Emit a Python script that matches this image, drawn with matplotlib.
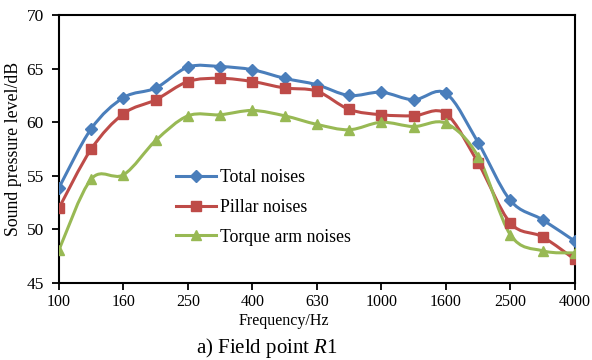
import numpy as np
import matplotlib.pyplot as plt
from matplotlib.path import Path
from matplotlib.patches import PathPatch
from matplotlib.lines import Line2D

plt.rcParams["font.family"] = ["Liberation Serif", "DejaVu Serif"]
plt.rcParams["mathtext.fontset"] = "custom"
plt.rcParams["mathtext.rm"] = "Liberation Serif"
plt.rcParams["mathtext.it"] = "Liberation Serif:italic"

freqs = ["100", "125", "160", "200", "250", "315", "400", "500", "630",
         "800", "1000", "1250", "1600", "2000", "2500", "3150", "4000"]
total = [53.9, 59.4, 62.3, 63.2, 65.15, 65.2, 64.9, 64.1, 63.5,
         62.5, 62.8, 62.1, 62.7, 58.1, 52.7, 50.9, 48.9]
pillar = [52.0, 57.5, 60.8, 62.1, 63.8, 64.1, 63.8, 63.2, 62.9,
          61.2, 60.7, 60.6, 60.8, 56.2, 50.6, 49.3, 47.2]
torque = [48.1, 54.7, 55.1, 58.3, 60.6, 60.7, 61.1, 60.6, 59.8,
          59.3, 60.0, 59.6, 59.9, 56.8, 49.5, 48.0, 47.8]

series = [
    ("Total noises", total, "#4a7ebb", "D", 6),
    ("Pillar noises", pillar, "#be4b48", "s", 7),
    ("Torque arm noises", torque, "#98b954", "^", 7.5),
]


def smooth_path(x, y):
    # Catmull-Rom style bezier, like Excel's smoothed line
    pts = np.column_stack([x, y]).astype(float)
    n = len(pts)
    verts = [pts[0]]
    codes = [Path.MOVETO]
    for i in range(n - 1):
        p0 = pts[i - 1] if i > 0 else pts[i]
        p1 = pts[i]
        p2 = pts[i + 1]
        p3 = pts[i + 2] if i + 2 < n else pts[i + 1]
        c1 = p1 + (p2 - p0) / 6
        c2 = p2 - (p3 - p1) / 6
        verts += [c1, c2, p2]
        codes += [Path.CURVE4] * 3
    return Path(verts, codes)


fig = plt.figure(figsize=(5.92, 3.6), dpi=100)
ax = fig.add_axes([0.0997, 0.214, 0.8713, 0.744])

x = np.arange(len(freqs))
handles = []
for name, vals, col, mk, ms in series:
    ax.add_patch(PathPatch(smooth_path(x, vals), facecolor="none",
                           edgecolor=col, lw=2.2, zorder=2))
    ax.plot(x, vals, ls="none", marker=mk, ms=ms, color=col, zorder=3)
    handles.append(Line2D([], [], color=col, lw=2.2, marker=mk, ms=ms))

ax.set_xlim(0, len(freqs) - 1)
ax.set_ylim(45, 70)
ax.set_xticks(x[::2])
ax.set_xticklabels(freqs[::2])
ax.set_yticks(np.arange(45, 71, 5))
ax.tick_params(axis="both", direction="out", length=5, width=1.3, pad=3)
ax.tick_params(axis="x", labelsize=11.5)
ax.tick_params(axis="y", labelsize=12.5, pad=6)
for s in ax.spines.values():
    s.set_linewidth(1.5)

ax.set_ylabel("Sound pressure level/dB", fontsize=12.8, labelpad=3)
fig.text(0.48, 0.108, "Frequency/Hz", ha="center", va="center",
         fontsize=11.5)

ax.legend(handles, [s[0] for s in series], loc="upper left",
          bbox_to_anchor=(0.195, 0.485), frameon=False, fontsize=12.8,
          handlelength=2.3, handletextpad=0.2, labelspacing=0.72)

fig.text(0.45, 0.033, "a) Field point $\\mathit{R}$1", ha="center",
         va="center", fontsize=15)

fig.savefig("out.png", dpi=100)
